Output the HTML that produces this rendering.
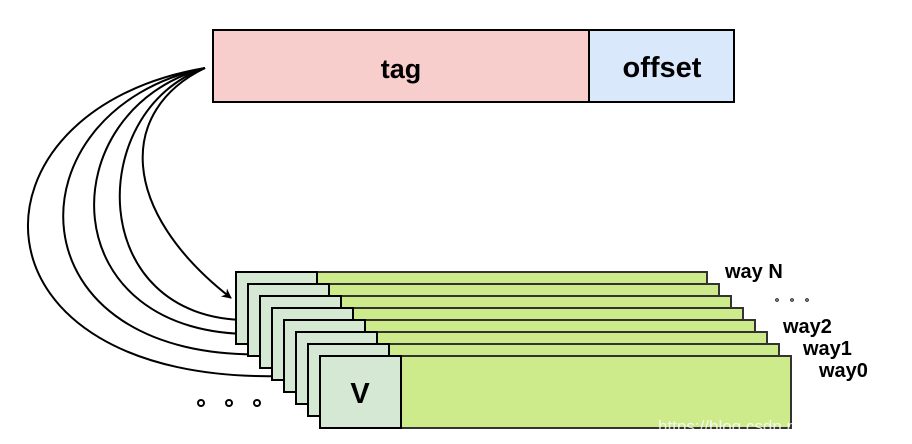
<!DOCTYPE html>
<html><head><meta charset="utf-8"><style>html,body{margin:0;padding:0;background:#fff}svg{display:block}</style></head>
<body>
<svg width="912" height="444" viewBox="0 0 912 444" xmlns="http://www.w3.org/2000/svg" font-family="Liberation Sans, sans-serif" font-weight="bold">
<defs>
<marker id="a" markerWidth="10" markerHeight="10" refX="9" refY="5" orient="auto" markerUnits="userSpaceOnUse">
<path d="M0,0 L10,5 L0,10 L3,5 Z" fill="#000"/>
</marker>
</defs>
<rect x="213" y="30" width="376" height="72" fill="#f8cecc" stroke="#000" stroke-width="2"/>
<rect x="589" y="30" width="145" height="72" fill="#dae8fc" stroke="#000" stroke-width="2"/>
<text x="401" y="78" font-size="27" text-anchor="middle">tag</text>
<text x="662" y="77" font-size="29" text-anchor="middle">offset</text>
<g fill="none" stroke="#000" stroke-width="2" marker-end="url(#a)">
<path d="M205,68 C118,110 118,210 231,298"/>
<path d="M205,68 C85,110 85,320 248,320"/>
<path d="M205,68 C49,110 49,340 260,334"/>
<path d="M205,68 C6,110 6,365 272,354"/>
<path d="M205,68 C-43,110 -43,385 285,376"/>
</g>
<g stroke="#333" stroke-width="2">
<rect x="236" y="272" width="471" height="72" fill="#cdeb8b"/><rect x="236" y="272" width="81" height="72" fill="#d5e8d4" stroke="#000"/>
<rect x="248" y="284" width="471" height="72" fill="#cdeb8b"/><rect x="248" y="284" width="81" height="72" fill="#d5e8d4" stroke="#000"/>
<rect x="260" y="296" width="471" height="72" fill="#cdeb8b"/><rect x="260" y="296" width="81" height="72" fill="#d5e8d4" stroke="#000"/>
<rect x="272" y="308" width="471" height="72" fill="#cdeb8b"/><rect x="272" y="308" width="81" height="72" fill="#d5e8d4" stroke="#000"/>
<rect x="284" y="320" width="471" height="72" fill="#cdeb8b"/><rect x="284" y="320" width="81" height="72" fill="#d5e8d4" stroke="#000"/>
<rect x="296" y="332" width="471" height="72" fill="#cdeb8b"/><rect x="296" y="332" width="81" height="72" fill="#d5e8d4" stroke="#000"/>
<rect x="308" y="344" width="471" height="72" fill="#cdeb8b"/><rect x="308" y="344" width="81" height="72" fill="#d5e8d4" stroke="#000"/>
<rect x="320" y="356" width="471" height="72" fill="#cdeb8b"/><rect x="320" y="356" width="81" height="72" fill="#d5e8d4" stroke="#000"/>
</g>
<text x="360" y="403" font-size="29" text-anchor="middle">V</text>
<g fill="none" stroke="#000" stroke-width="2">
<circle cx="201" cy="403" r="3"/><circle cx="229" cy="403" r="3"/><circle cx="257" cy="403" r="3"/>
</g>
<g fill="none" stroke="#000" stroke-width="1">
<circle cx="777" cy="300" r="1.3"/><circle cx="792" cy="300" r="1.3"/><circle cx="807" cy="300" r="1.3"/>
</g>
<g font-size="20" fill="#000">
<text x="725" y="278">way N</text>
<text x="783" y="333">way2</text>
<text x="803" y="355">way1</text>
<text x="819" y="377">way0</text>
</g>
<text x="658" y="432" font-size="17" font-weight="normal" fill="#fff" fill-opacity="0.8">https://blog.csdn.net/qq_39376747</text>
</svg>
</body></html>
